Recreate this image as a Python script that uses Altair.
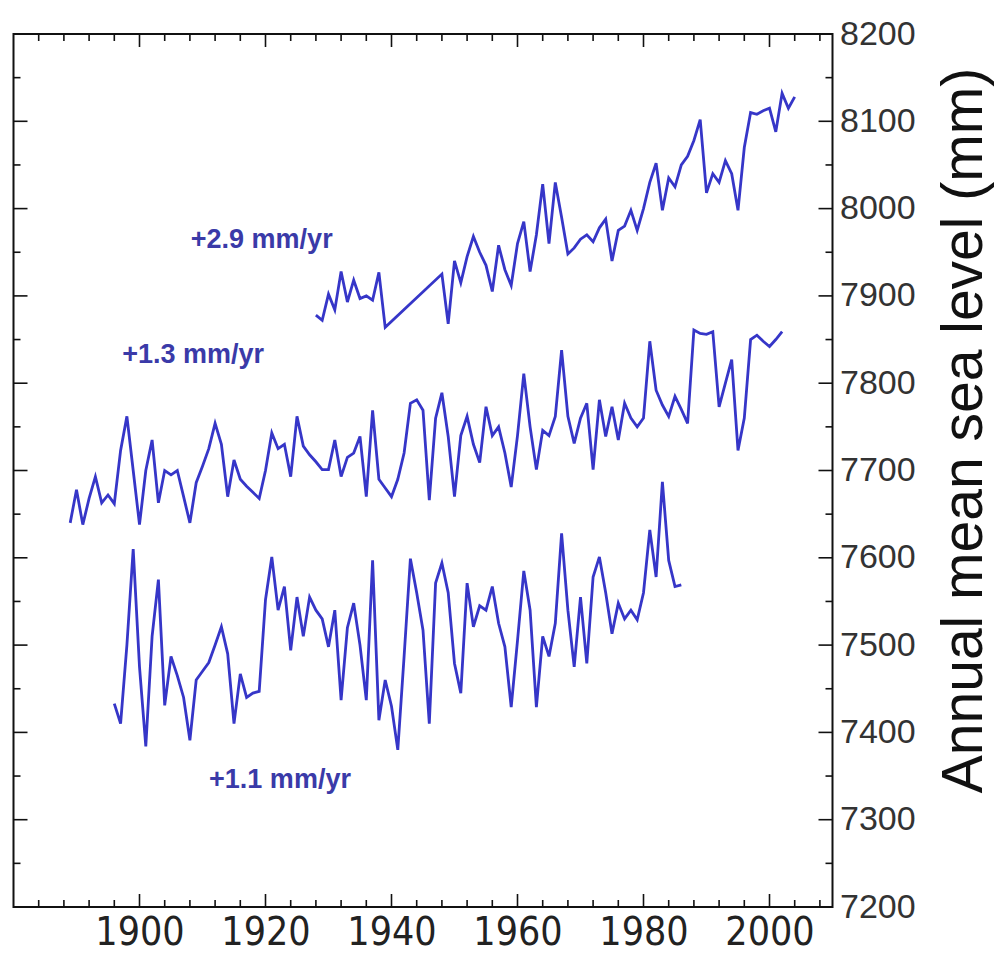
import altair as alt
import pandas as pd

# Annual mean sea level (mm) at three tide-gauge stations
upper_years = list(range(1928, 1940)) + list(range(1948, 2005))
upper_levels = [
    7878, 7872, 7902, 7884, 7928, 7893, 7918, 7897, 7900, 7895, 7927, 7864,
    7925, 7868, 7940, 7915, 7945, 7968, 7950, 7935, 7905, 7958,
    7930, 7912, 7960, 7985, 7928, 7970, 8028, 7960, 8030, 7990,
    7948, 7955, 7965, 7970, 7962, 7978, 7988, 7940, 7975, 7980,
    7998, 7975, 8000, 8030, 8052, 7998, 8035, 8025, 8050, 8060,
    8078, 8102, 8018, 8040, 8030, 8055, 8040, 7998, 8070, 8110,
    8108, 8112, 8115, 8088, 8132, 8115, 8128,
]

middle_years = list(range(1889, 2003))
middle_levels = [
    7640, 7678, 7638, 7668, 7693, 7663, 7672, 7662, 7723, 7762,
    7700, 7638, 7700, 7735, 7663, 7700, 7695, 7700, 7670, 7640,
    7686, 7705, 7725, 7754, 7730, 7670, 7712, 7690, 7682, 7675,
    7668, 7700, 7743, 7725, 7730, 7693, 7762, 7728, 7718, 7710,
    7701, 7701, 7735, 7693, 7715, 7720, 7739, 7670, 7769, 7690,
    7680, 7670, 7690, 7720, 7777, 7781, 7769, 7666, 7760, 7789,
    7739, 7670, 7740, 7762, 7730, 7709, 7773, 7740, 7750, 7720,
    7681, 7740, 7811, 7750, 7701, 7746, 7740, 7762, 7838, 7762,
    7731, 7760, 7777, 7701, 7781, 7739, 7773, 7735, 7777, 7760,
    7750, 7760, 7848, 7792, 7775, 7762, 7785, 7770, 7754, 7861,
    7857, 7856, 7859, 7773, 7800, 7827, 7723, 7760, 7850, 7855,
    7848, 7842, 7850, 7859,
]

lower_years = list(range(1896, 1987))
lower_levels = [
    7433, 7410, 7500, 7610, 7475, 7384, 7510, 7575, 7431, 7487,
    7465, 7440, 7391, 7460, 7470, 7480, 7500, 7521, 7490, 7410,
    7467, 7440, 7445, 7447, 7552, 7601, 7540, 7567, 7494, 7555,
    7510, 7555, 7540, 7530, 7498, 7540, 7437, 7520, 7548, 7500,
    7437, 7597, 7414, 7460, 7430, 7380, 7487, 7599, 7560, 7517,
    7410, 7571, 7594, 7560, 7479, 7445, 7571, 7521, 7545, 7540,
    7567, 7525, 7498, 7429, 7505, 7585, 7540, 7429, 7510, 7487,
    7525, 7628, 7540, 7475, 7555, 7479, 7578, 7601, 7560, 7513,
    7548, 7530, 7540, 7529, 7560, 7632, 7578, 7687, 7597, 7567,
    7569,
]

# Trend labels and where they sit (year, level)
trend_text = ["+2.9 mm/yr", "+1.3 mm/yr", "+1.1 mm/yr"]
trend_year = [1919.4, 1908.5, 1922.3]
trend_level = [7964, 7832, 7345]

year_labels = [1900, 1920, 1940, 1960, 1980, 2000]
level_labels = list(range(7200, 8201, 100))

W, H = 819, 873
LINE_BLUE = "#3636c8"
TEXT_BLUE = "#3a3aa8"
NARROW = "Liberation Sans Narrow, Arial Narrow, DejaVu Sans Condensed, Liberation Sans, sans-serif"
SANS = "Liberation Sans, Arial, sans-serif"

series = pd.concat([
    pd.DataFrame({"station": "upper", "year": upper_years, "level": upper_levels}),
    pd.DataFrame({"station": "middle", "year": middle_years, "level": middle_levels}),
    pd.DataFrame({"station": "lower", "year": lower_years, "level": lower_levels}),
])

x_scale = alt.Scale(domain=[1880, 2010], nice=False, zero=False)
y_scale = alt.Scale(domain=[7200, 8200], nice=False, zero=False)

x_enc = alt.X(
    "year:Q", scale=x_scale,
    axis=alt.Axis(values=year_labels, format="d", ticks=False, domain=False, grid=False,
                  title=None, labelFont=NARROW, labelFontSize=39, labelColor="#222",
                  labelPadding=6, labelFlush=False, labelOverlap=False),
)
y_enc = alt.Y(
    "level:Q", scale=y_scale,
    axis=alt.Axis(orient="right", values=level_labels, format="d", ticks=False,
                  domain=False, grid=False, title="Annual mean sea level (mm)",
                  titleAngle=270, titleFont=SANS, titleFontSize=57,
                  titleFontWeight="normal", titleColor="#111",
                  titleX=132, titleY=396, titleAlign="center", titleBaseline="middle",
                  labelFont=SANS, labelFontSize=34, labelColor="#333",
                  labelPadding=7, labelOverlap=False),
)

lines = alt.Chart(series).mark_line(color=LINE_BLUE, strokeWidth=2.8, strokeJoin="miter").encode(
    x=x_enc, y=y_enc, detail="station:N", order="year:Q"
)

trend = alt.Chart(pd.DataFrame({"text": trend_text, "year": trend_year, "level": trend_level})).mark_text(
    font=SANS, fontSize=27, fontWeight="bold", color=TEXT_BLUE, align="center", baseline="middle"
).encode(x=alt.X("year:Q", scale=x_scale), y=alt.Y("level:Q", scale=y_scale), text="text:N")

# Inward-pointing frame ticks
x_major = pd.DataFrame({"year": year_labels})
x_minor = pd.DataFrame({"year": [y for y in range(1884, 2010, 4) if y % 20 != 0]})
y_major = pd.DataFrame({"level": list(range(7300, 8200, 100))})
y_minor = pd.DataFrame({"level": list(range(7250, 8200, 100))})


def xticks(df, length):
    base = alt.Chart(df).mark_rule(color="#111", strokeWidth=1.6)
    xs = alt.X("year:Q", scale=x_scale)
    return (base.encode(x=xs, y=alt.value(H), y2=alt.value(H - length))
            + base.encode(x=xs, y=alt.value(0), y2=alt.value(length)))


def yticks(df, length):
    base = alt.Chart(df).mark_rule(color="#111", strokeWidth=1.6)
    ys = alt.Y("level:Q", scale=y_scale)
    return (base.encode(y=ys, x=alt.value(0), x2=alt.value(length))
            + base.encode(y=ys, x=alt.value(W), x2=alt.value(W - length)))


chart = alt.layer(
    xticks(x_major, 13), xticks(x_minor, 7),
    yticks(y_major, 14), yticks(y_minor, 7),
    lines, trend,
).properties(
    width=W, height=H,
    padding={"left": 13.5, "top": 34, "right": 165.5, "bottom": 51},
    autosize=alt.AutoSizeParams(type="none"),
    background="white",
).configure_view(stroke="#111", strokeWidth=2)

chart.save("out.html", embed_options={"renderer": "svg", "actions": False})
